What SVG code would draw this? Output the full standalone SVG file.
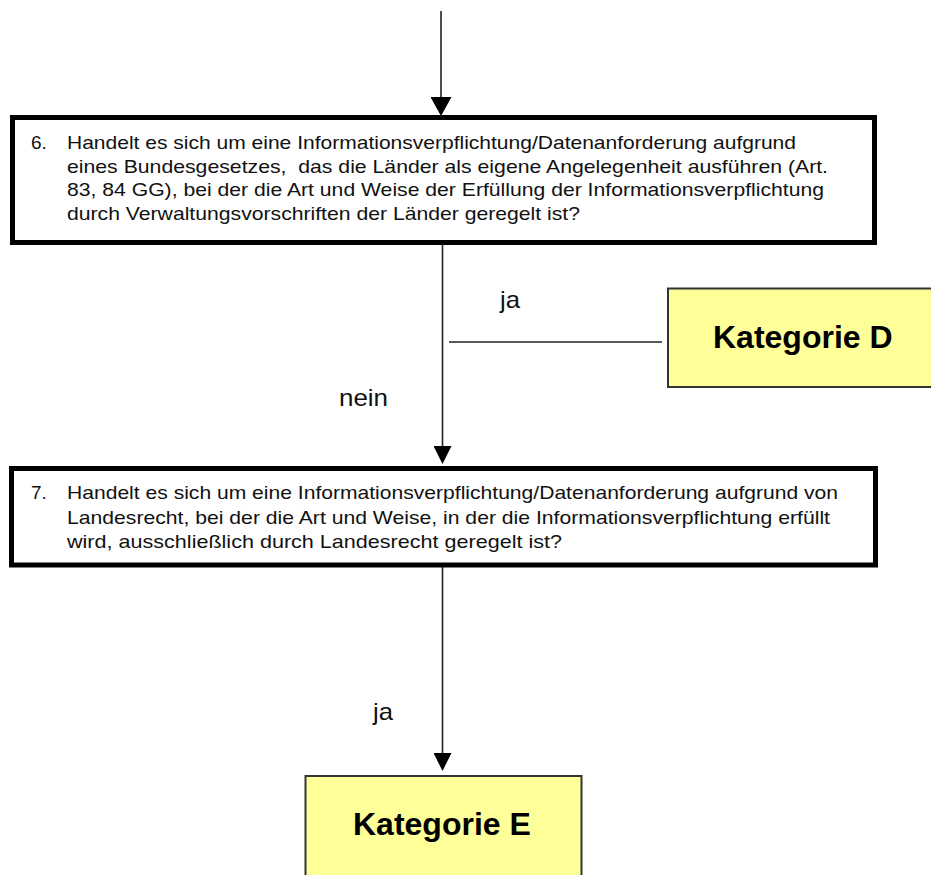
<svg xmlns="http://www.w3.org/2000/svg" width="931" height="875" viewBox="0 0 931 875">
  <defs>
    <style>
      .q { fill: #ffffff; stroke: #000000; stroke-width: 5; }
      .cat { fill: #ffff99; stroke: #333333; stroke-width: 2; }
      .qt { font-family: "Liberation Sans", Arial, sans-serif; font-size: 19px; fill: #111111; white-space: pre; }
      .ct { font-family: "Liberation Sans", Arial, sans-serif; font-size: 32px; font-weight: bold; fill: #000000; }
      .lbl { font-family: "Liberation Sans", Arial, sans-serif; font-size: 24px; fill: #111111; }
      .conn { stroke: #222222; stroke-width: 1.6; fill: none; }
    </style>
    <marker id="arrowL" markerUnits="userSpaceOnUse" viewBox="0 0 19 21" refX="0" refY="10.5" markerWidth="19" markerHeight="21" orient="auto">
      <path d="M0,0 L19,10.5 L0,21 Z" fill="#000000"/>
    </marker>
    <marker id="arrow" markerUnits="userSpaceOnUse" viewBox="0 0 18 18" refX="0" refY="9" markerWidth="18" markerHeight="18" orient="auto">
      <path d="M0,0 L18,9 L0,18 Z" fill="#000000"/>
    </marker>
  </defs>

  <rect width="931" height="875" fill="#ffffff"/>

  <g id="connectors">
    <line class="conn" x1="441" y1="11" x2="441" y2="97" stroke="#000000" stroke-width="2" marker-end="url(#arrowL)"/>
    <line class="conn" x1="442.5" y1="245" x2="442.5" y2="446" marker-end="url(#arrow)"/>
    <line class="conn" x1="449" y1="342" x2="662" y2="342"/>
    <line class="conn" x1="442.5" y1="567" x2="442.5" y2="753" marker-end="url(#arrow)"/>
    <text class="lbl" x="500" y="308" textLength="20" lengthAdjust="spacingAndGlyphs">ja</text>
    <text class="lbl" x="339" y="406" textLength="49" lengthAdjust="spacingAndGlyphs">nein</text>
    <text class="lbl" x="373" y="720" textLength="20" lengthAdjust="spacingAndGlyphs">ja</text>
  </g>

  <g id="q6">
    <rect class="q" x="12.5" y="117.5" width="862" height="125"/>
    <text class="qt" x="31" y="149">6.</text>
    <text class="qt" x="67" y="149" textLength="729" lengthAdjust="spacingAndGlyphs">Handelt es sich um eine Informationsverpflichtung/Datenanforderung aufgrund</text>
    <text class="qt" x="67" y="172.5" textLength="761" lengthAdjust="spacingAndGlyphs" xml:space="preserve">eines Bundesgesetzes,  das die Länder als eigene Angelegenheit ausführen (Art.</text>
    <text class="qt" x="67" y="196" textLength="757" lengthAdjust="spacingAndGlyphs">83, 84 GG), bei der die Art und Weise der Erfüllung der Informationsverpflichtung</text>
    <text class="qt" x="67" y="219.5" textLength="513" lengthAdjust="spacingAndGlyphs">durch Verwaltungsvorschriften der Länder geregelt ist?</text>
  </g>

  <g id="katD">
    <rect class="cat" x="668" y="288.5" width="270" height="98.5"/>
    <text class="ct" x="713" y="348">Kategorie D</text>
  </g>

  <g id="q7">
    <rect class="q" x="11.5" y="468.5" width="864" height="96.5"/>
    <text class="qt" x="31" y="499">7.</text>
    <text class="qt" x="67" y="499" textLength="771" lengthAdjust="spacingAndGlyphs">Handelt es sich um eine Informationsverpflichtung/Datenanforderung aufgrund von</text>
    <text class="qt" x="67" y="523.5" textLength="763" lengthAdjust="spacingAndGlyphs">Landesrecht, bei der die Art und Weise, in der die Informationsverpflichtung erfüllt</text>
    <text class="qt" x="67" y="548" textLength="495" lengthAdjust="spacingAndGlyphs">wird, ausschließlich durch Landesrecht geregelt ist?</text>
  </g>

  <g id="katE">
    <rect class="cat" x="305.5" y="776" width="276" height="105"/>
    <text class="ct" x="353" y="835">Kategorie E</text>
  </g>
</svg>
